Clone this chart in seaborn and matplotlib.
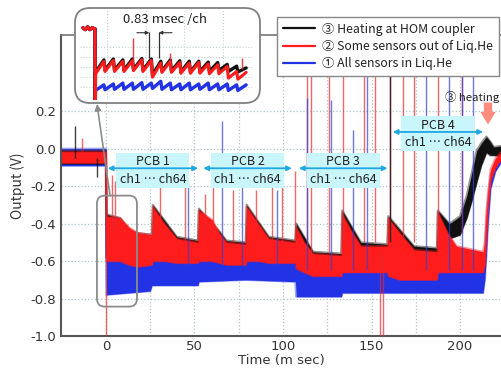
import numpy as np
import matplotlib
matplotlib.use("Agg")
import matplotlib.pyplot as plt
import seaborn as sns
from matplotlib.patches import FancyBboxPatch, Rectangle
from matplotlib.lines import Line2D

sns.set_style("white")
plt.rcParams["font.family"] = ["Noto Sans CJK JP", "DejaVu Sans"]
plt.rcParams["axes.unicode_minus"] = False

# ---- main traces: noise envelope (time in ms, output in V) ----
red_t = [-25.4, 0, 0.3, 8, 13, 18, 26, 26.5, 33, 40, 52, 52.5, 60, 64, 68, 79, 79.5, 86, 92, 107,
         107.5, 112, 117, 133, 133.5, 138, 144, 159, 159.5, 166, 174, 187, 187.5, 193, 198, 213,
         214, 214.8, 215.8, 217.3, 220, 223, 225]
red_lo = [-0.075, -0.075, -0.60, -0.60, -0.62, -0.63, -0.62, -0.60, -0.60, -0.61, -0.61, -0.60,
          -0.60, -0.61, -0.62, -0.62, -0.60, -0.60, -0.61, -0.61, -0.64, -0.66, -0.68, -0.68,
          -0.66, -0.66, -0.66, -0.66, -0.68, -0.70, -0.70, -0.70, -0.66, -0.66, -0.66, -0.66,
          -0.62, -0.50, -0.32, -0.17, -0.10, -0.06, -0.05]
red_hi = [-0.015, -0.015, -0.36, -0.37, -0.42, -0.45, -0.46, -0.31, -0.40, -0.48, -0.50, -0.33,
          -0.38, -0.45, -0.50, -0.51, -0.31, -0.40, -0.48, -0.50, -0.42, -0.50, -0.56, -0.57,
          -0.35, -0.43, -0.52, -0.52, -0.37, -0.45, -0.54, -0.55, -0.34, -0.45, -0.52, -0.55,
          -0.50, -0.35, -0.24, -0.11, -0.05, -0.02, -0.01]

black_t = [-25.4, 0, 0.3, 8, 14, 18, 26, 26.5, 40, 52, 52.5, 64, 68, 79, 79.5, 92, 107, 107.5,
           117, 133, 133.5, 144, 159, 159.5, 174, 187, 187.5, 194, 200, 203.8, 206.6, 209.4,
           212, 214.9, 217, 219, 223, 225]
black_lo = [-0.08, -0.08, -0.58, -0.58, -0.56, -0.58, -0.58, -0.58, -0.58, -0.60, -0.58, -0.60,
            -0.60, -0.60, -0.58, -0.60, -0.60, -0.62, -0.64, -0.65, -0.62, -0.63, -0.64, -0.64,
            -0.66, -0.66, -0.60, -0.48, -0.46, -0.37, -0.28, -0.18, -0.09, -0.02, -0.035,
            -0.035, -0.04, -0.04]
black_hi = [-0.01, -0.01, -0.35, -0.37, -0.44, -0.45, -0.46, -0.30, -0.47, -0.49, -0.32, -0.44,
            -0.49, -0.50, -0.30, -0.47, -0.49, -0.40, -0.55, -0.56, -0.33, -0.50, -0.51, -0.36,
            -0.52, -0.53, -0.33, -0.40, -0.36, -0.25, -0.13, -0.01, 0.03, 0.065, 0.04, 0.01,
            0.015, 0.01]

blue_t = [-25.4, 0, 0.3, 25, 26, 52, 52.5, 79, 107, 107.5, 133, 133.5, 213, 214, 214.8, 215.8,
          217.3, 220, 223, 225]
blue_lo = [-0.09, -0.09, -0.78, -0.76, -0.73, -0.73, -0.71, -0.70, -0.71, -0.79, -0.79, -0.77,
           -0.77, -0.70, -0.58, -0.40, -0.21, -0.12, -0.075, -0.06]
blue_hi = [0.0, 0.0, -0.58, -0.58, -0.57, -0.57, -0.55, -0.56, -0.57, -0.63, -0.62, -0.61,
           -0.62, -0.55, -0.42, -0.28, -0.14, -0.07, -0.03, -0.02]

# ---- spikes (time, from, to) ----
red_spk_t = [0.0, -13.7, 3.2, 5.0, 30.5, 44.6, 56.0, 60.5, 72.0, 85.0, 93.6, 99.4, 106.8, 113.5,
             116.0, 126.0, 134.0, 145.7, 152.0, 155.0, 156.5, 160.5, 168.0, 174.0, 187.5, 201.0]
red_spk_lo = [-1.0, -0.05, -0.45, -0.45, -0.40, -0.50, -0.45, -0.45, -0.50, -0.45, -0.50, -0.50,
              -0.50, -0.55, -0.55, -0.55, -0.50, -0.50, -0.50, -1.0, -1.0, -0.45, -0.50, -0.50,
              -0.45, -0.45]
red_spk_hi = [-0.05, 0.06, -0.14, -0.17, -0.15, -0.16, -0.24, -0.20, -0.22, -0.22, -0.12, -0.15,
              -0.12, 0.62, 0.62, 0.62, 0.62, 0.62, 0.62, -0.55, -0.55, 0.62, 0.62, 0.62, 0.62,
              0.62]
blue_spk_t = [46.3, 65.5, 76.6, 96.5, 113.5, 127.0, 139.6, 147.3, 181.0, 194.0, 201.0, 207.5]
blue_spk_lo = [-0.62, -0.62, -0.62, -0.62, -0.65, -0.65, -0.65, -0.65, -0.65, -0.65, -0.65, -0.65]
blue_spk_hi = [-0.18, 0.15, -0.20, -0.22, 0.27, 0.26, 0.10, 0.62, 0.62, 0.62, 0.62, 0.62]
black_spk_t = [-17.5, -5.3, 160.5]
black_spk_lo = [-0.05, -0.15, -0.50]
black_spk_hi = [0.12, -0.05, 0.62]

# ---- inset: per-channel values, first 16 channels of PCB 1 ----
ch_period = 0.83
in_base_t = [-1.05, -0.85, -0.65, -0.45, -0.25, -0.05]
in_base_v = [-0.04, -0.06, -0.03, -0.06, -0.04, -0.05]
in_red_lo = [-0.556, -0.53, -0.53, -0.53, -0.52, -0.53, -0.594, -0.54, -0.54, -0.55, -0.55,
             -0.55, -0.556, -0.556, -0.605, -0.617]
in_red_hi = [-0.417, -0.406, -0.417, -0.41, -0.40, -0.406, -0.436, -0.417, -0.43, -0.436, -0.43,
             -0.445, -0.455, -0.474, -0.53, -0.54]
in_black_lo = [-0.54, -0.515, -0.515, -0.515, -0.505, -0.515, -0.57, -0.525, -0.525, -0.535,
               -0.535, -0.53, -0.53, -0.52, -0.53, -0.535]
in_black_hi = [-0.40, -0.39, -0.40, -0.39, -0.385, -0.39, -0.415, -0.40, -0.41, -0.415, -0.415,
               -0.425, -0.43, -0.45, -0.47, -0.49]
in_blue_lo = [-0.743, -0.735, -0.73, -0.73, -0.73, -0.73, -0.72, -0.73, -0.735, -0.735, -0.735,
              -0.73, -0.735, -0.735, -0.743, -0.743]
in_blue_hi = [-0.68, -0.67, -0.66, -0.66, -0.655, -0.66, -0.64, -0.66, -0.67, -0.66, -0.67,
              -0.66, -0.67, -0.67, -0.68, -0.68]
in_drop_v = -0.85
in_spk_t = [3.3, 6.6, 12.9]
in_spk_hi = [-0.15, -0.32, -0.38]

# ---- PCB ranges ----
pcb_names = ["PCB 1", "PCB 2", "PCB 3", "PCB 4"]
pcb_start = [1, 55, 109, 162]
pcb_end = [52, 105, 159, 213]
pcb_level = [-0.104, -0.104, -0.104, 0.09]

labels = ["③ Heating at HOM coupler", "② Some sensors out of Liq.He", "① All sensors in Liq.He"]
RED, BLUE, BLACK = "#ff1c1c", "#2233e6", "#111111"

fig = plt.figure(figsize=(5.02, 3.69), dpi=100)
ax = fig.add_axes([61 / 502, 33 / 369, 441 / 502, 301 / 369])

for t, lo, hi, col, z in [(blue_t, blue_lo, blue_hi, BLUE, 2), (black_t, black_lo, black_hi, BLACK, 2.1),
                          (red_t, red_lo, red_hi, RED, 2.2)]:
    ax.fill_between(t, lo, hi, color=col, lw=0, zorder=z)
    # soft noisy edges
    ax.plot(t, lo, color=col, lw=1.6, alpha=0.45, zorder=z)
    ax.plot(t, hi, color=col, lw=1.6, alpha=0.45, zorder=z)
ax.vlines(red_spk_t, red_spk_lo, red_spk_hi, colors="#e8282c", lw=1.0, alpha=0.7, zorder=3)
ax.vlines(blue_spk_t, blue_spk_lo, blue_spk_hi, colors="#3040d0", lw=1.0, alpha=0.7, zorder=3)
ax.vlines(black_spk_t, black_spk_lo, black_spk_hi, colors=BLACK, lw=1.0, alpha=0.8, zorder=3)

ax.set_xlim(-25.4, 223.7)
ax.set_ylim(-1.0, 0.608)
ax.set_xticks([0, 50, 100, 150, 200])
ax.set_xticks([25, 75, 125, 175], minor=True)
ax.set_yticks([-1.0, -0.8, -0.6, -0.4, -0.2, 0.0, 0.2])
ax.set_yticklabels(["-1.0", "-0.8", "-0.6", "-0.4", "-0.2", "0.0", "0.2"])
ax.grid(which="both", ls=":", color="#b0c4cc", lw=0.9)
ax.tick_params(axis="both", which="both", length=0, labelsize=10, labelcolor="#333333")
ax.tick_params(axis="x", pad=3)
for lab in ax.get_xticklabels() + ax.get_yticklabels():
    lab.set_fontfamily("DejaVu Sans")
    lab.set_fontsize(9.5)
for s in ["left", "bottom"]:
    ax.spines[s].set_color("#555555")
    ax.spines[s].set_linewidth(1.5)
ax.spines["top"].set_color("#777777")
ax.spines["top"].set_linewidth(1.2)
ax.spines["right"].set_visible(False)
ax.set_xlabel("Time (m sec)", fontsize=9.5, color="#333333", va="center", family="DejaVu Sans")
ax.xaxis.set_label_coords(0.5, -0.082)
ax.set_ylabel("Output (V)", fontsize=10, color="#333333")

# PCB annotations
for name, a, b, lv in zip(pcb_names, pcb_start, pcb_end, pcb_level):
    c = (a + b) / 2
    ax.add_patch(Rectangle((c - 20.6, lv - 0.104), 41.2, 0.187, fc="#c9f6fb", ec="none", zorder=4))
    ax.annotate("", xy=(b, lv), xytext=(a, lv), zorder=5,
                arrowprops=dict(arrowstyle="<|-|>", color="#1ea8e4", lw=1.3, mutation_scale=7,
                                shrinkA=0, shrinkB=0))
    ax.text(c, lv + 0.034, name, ha="center", va="center", fontsize=9, color="#222222", zorder=5)
    ax.text(c, lv - 0.058, "ch1 ⋯ ch64", ha="center", va="center", fontsize=9,
            color="#222222", zorder=5)

ax.text(191.6, 0.277, "③ heating", ha="left", va="center", fontsize=8.2, color="#222222",
        clip_on=False)
ax.annotate("", xy=(215.8, 0.115), xytext=(215.8, 0.262),
            arrowprops=dict(arrowstyle="simple,head_width=1.1,head_length=0.9,tail_width=0.6",
                            fc="#ff7f72", ec="none", mutation_scale=10, alpha=0.9))

# zoom frame and pointer
ax.add_patch(FancyBboxPatch((-5.1, -0.843), 22.6, 0.593, boxstyle="round,pad=0,rounding_size=4.5",
                            mutation_aspect=0.0094, fc="none", ec="#8c8c8c", lw=1.3, zorder=6))
ax.annotate("", xy=(97 / 502, 1 - 104 / 369), xycoords="figure fraction",
            xytext=(2.3, -0.25), textcoords="data", annotation_clip=False, zorder=6,
            arrowprops=dict(arrowstyle="-|>", color="#8c8c8c", lw=1.2, mutation_scale=9,
                            shrinkA=0, shrinkB=0))

handles = [Line2D([], [], color=BLACK, lw=1.6), Line2D([], [], color=RED, lw=1.6),
           Line2D([], [], color=BLUE, lw=1.6)]
leg = ax.legend(handles, labels, loc="upper left", bbox_to_anchor=(277 / 502, 1 - 17 / 369),
                bbox_transform=fig.transFigure, fontsize=8.9, frameon=True, fancybox=False,
                framealpha=1, edgecolor="#888888", handlelength=2.6, labelspacing=0.35,
                borderpad=0.45, handletextpad=0.6, borderaxespad=0)
leg.get_frame().set_linewidth(1.0)
for t in leg.get_texts():
    t.set_color("#222222")

# inset
box = FancyBboxPatch((75 / 502, 1 - 103 / 369), 185 / 502, 95 / 369,
                     boxstyle="round,pad=0,rounding_size=0.03", mutation_aspect=502 / 369,
                     transform=fig.transFigure, fc="white", ec="#808080", lw=1.3, zorder=5)
fig.add_artist(box)
axi = fig.add_axes([80 / 502, 1 - 100 / 369, 172 / 502, 90 / 369], zorder=6)
axi.set_facecolor("none")


def saw(lo, hi, start_v):
    xs, ys = list(in_base_t) + [0.0, 0.02], list(in_base_v) + [start_v, in_drop_v]
    for k in range(len(lo)):
        xs += [k * ch_period + 0.05, k * ch_period + 0.78]
        ys += [lo[k], hi[k]]
    return xs, ys


for lo, hi, col, lw in [(in_blue_lo, in_blue_hi, BLUE, 2.4), (in_black_lo, in_black_hi, BLACK, 2.4),
                        (in_red_lo, in_red_hi, RED, 2.2)]:
    xs, ys = saw(lo, hi, -0.05)
    sns.lineplot(x=xs, y=ys, color=col, lw=lw, ax=axi, sort=False, estimator=None)
axi.vlines(in_spk_t, -0.5, in_spk_hi, colors="#e8282c", lw=1.0, alpha=0.9)
axi.set_xlim(-1.31, 13.74)
axi.set_ylim(-0.85, 0.16)
axi.set_xticks([1.05, 4.45, 7.8, 11.2])
axi.set_yticks([-0.25, -0.365, -0.477, -0.59, -0.70])
axi.grid(ls=":", color="#c4d2d8", lw=0.8)
axi.tick_params(length=0, labelbottom=False, labelleft=False)
for s in axi.spines.values():
    s.set_visible(False)
axi.set_xlabel("")
axi.set_ylabel("")
axi.text(6.1, 0.05, "0.83 msec /ch", ha="center", va="center", fontsize=9.5, color="#222222")
axi.vlines([4.75, 5.58], -0.376, -0.084, colors="#333333", lw=0.9)
for x0, x1 in [(3.67, 4.75), (6.74, 5.58)]:
    axi.annotate("", xy=(x1, -0.095), xytext=(x0, -0.095),
                 arrowprops=dict(arrowstyle="-|>", color="#333333", lw=0.8, mutation_scale=5,
                                 shrinkA=0, shrinkB=0))

fig.savefig("out.png", dpi=100)
